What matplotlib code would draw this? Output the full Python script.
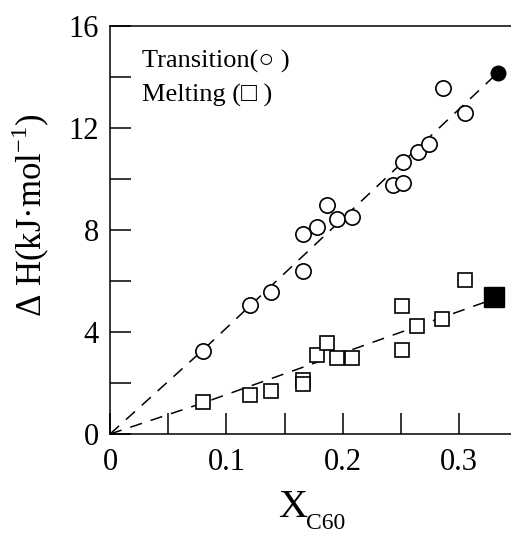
import matplotlib
matplotlib.use('Agg')
import matplotlib.pyplot as plt

plt.rcParams['font.family'] = ['Liberation Serif', 'DejaVu Serif']
plt.rcParams['mathtext.fontset'] = 'custom'
plt.rcParams['mathtext.rm'] = 'Liberation Serif'

# transition enthalpy (open circles)
trans_x = [0.080, 0.120, 0.138, 0.166, 0.166, 0.178, 0.186, 0.195, 0.208,
           0.243, 0.252, 0.252, 0.265, 0.274, 0.286, 0.305]
trans_h = [3.24, 5.05, 5.57, 6.38, 7.86, 8.10, 8.97, 8.44, 8.50,
           9.78, 9.84, 10.67, 11.06, 11.36, 13.57, 12.60]
# melting enthalpy (open squares)
melt_x = [0.080, 0.120, 0.138, 0.166, 0.166, 0.178, 0.186, 0.195, 0.208,
          0.251, 0.251, 0.264, 0.285, 0.305]
melt_h = [1.24, 1.52, 1.70, 2.13, 1.96, 3.11, 3.57, 2.98, 2.98,
          5.03, 3.31, 4.25, 4.51, 6.03]
# pure compound values (filled)
pure_trans = (0.333, 14.16)
pure_melt = (0.330, 5.38)
# dashed guide lines
guide_x_t = [0, 0.080, 0.333]
guide_t = [0, 3.30, 14.16]
guide_x_m = [0, 0.080, 0.330]
guide_m = [0, 1.22, 5.30]

fig = plt.figure(figsize=(5.11, 5.33), dpi=100)
ax = fig.add_axes([0.2153, 0.1857, 0.7847, 0.7655])

ax.plot(guide_x_t, guide_t, '--', color='black', lw=1.1, dashes=(8, 6))
ax.plot(guide_x_m, guide_m, '--', color='black', lw=1.1, dashes=(8, 6))
ax.plot(trans_x, trans_h, 'o', ms=11, mfc='white', mec='black', mew=1.2)
ax.plot(melt_x, melt_h, 's', ms=9.5, mfc='white', mec='black', mew=1.2)
ax.plot(*pure_trans, 'o', ms=10.5, color='black', clip_on=False)
ax.plot(*pure_melt, 's', ms=15, color='black', clip_on=False)

ax.set_xlim(0, 0.3445)
ax.set_ylim(0, 16)
ax.set_xticks([0, 0.1, 0.2, 0.3])
ax.set_xticklabels(['0', '0.1', '0.2', '0.3'])
ax.set_xticks([0.05, 0.15, 0.25], minor=True)
ax.set_yticks([0, 4, 8, 12, 16])
ax.set_yticks([2, 6, 10, 14], minor=True)
ax.tick_params(which='both', direction='in', length=15, width=1.1, labelsize=22)
ax.tick_params(axis='y', which='major', pad=8)
ax.tick_params(axis='x', which='major', pad=10)
ax.spines['right'].set_visible(False)
for s in ['left', 'bottom', 'top']:
    ax.spines[s].set_linewidth(1.1)

fig.text(31 / 511, 1 - 215 / 533, 'Δ H(kJ·mol$^{\\mathrm{-1}}$)', fontsize=25,
         rotation=90, ha='center', va='center')
fig.text(278 / 511, 1 - 517 / 533, 'X', fontsize=29, va='baseline')
fig.text(306 / 511, 1 - 529 / 533, 'C60', fontsize=17, va='baseline')

fig.text(142 / 511, 1 - 68 / 533, 'Transition(○ )', fontsize=19, va='baseline')
fig.text(142 / 511, 1 - 102 / 533, 'Melting (□ )', fontsize=19, va='baseline')

fig.savefig('out.png', dpi=100)
